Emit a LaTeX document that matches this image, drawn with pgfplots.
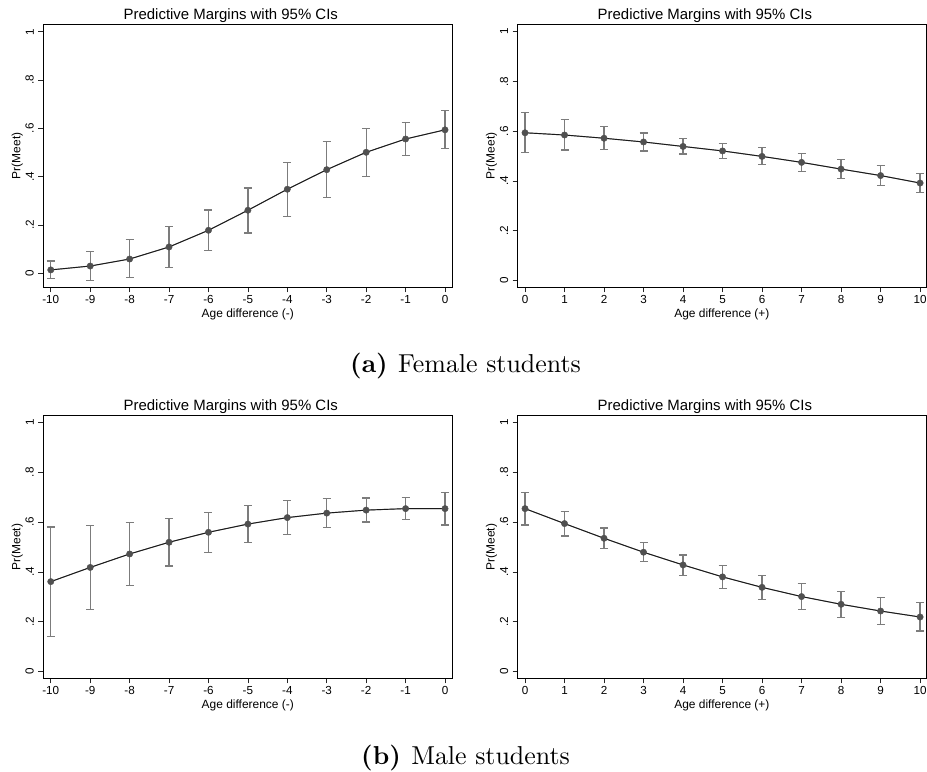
\documentclass[border=0pt]{standalone}
\usepackage{fontspec}
\usepackage{pgfplots}
\usepackage{pgfplotstable}
\pgfplotsset{compat=1.18}
\newfontfamily\arial{Liberation Sans}
\definecolor{mk}{HTML}{505050}
\definecolor{ln}{HTML}{1A1A1A}
\definecolor{eb}{HTML}{7C7C7C}

\pgfplotstableread{
x y lo hi
-10 0.014 -0.023 0.051
-9 0.030 -0.030 0.090
-8 0.059 -0.019 0.139
-7 0.109 0.023 0.194
-6 0.178 0.094 0.262
-5 0.261 0.167 0.353
-4 0.348 0.236 0.459
-3 0.429 0.313 0.546
-2 0.501 0.401 0.600
-1 0.556 0.488 0.623
0 0.594 0.516 0.674
}\femneg
\pgfplotstableread{
x y lo hi
0 0.594 0.515 0.675
1 0.585 0.525 0.647
2 0.572 0.526 0.618
3 0.557 0.521 0.593
4 0.539 0.509 0.572
5 0.521 0.489 0.552
6 0.499 0.465 0.534
7 0.475 0.439 0.510
8 0.448 0.411 0.486
9 0.422 0.383 0.461
10 0.392 0.353 0.431
}\fempos
\pgfplotstableread{
x y lo hi
-10 0.361 0.140 0.580
-9 0.418 0.250 0.587
-8 0.472 0.346 0.598
-7 0.519 0.424 0.615
-6 0.559 0.479 0.639
-5 0.592 0.519 0.666
-4 0.618 0.551 0.686
-3 0.636 0.579 0.695
-2 0.648 0.600 0.697
-1 0.654 0.610 0.699
0 0.654 0.588 0.718
}\maleneg
\pgfplotstableread{
x y lo hi
0 0.654 0.588 0.718
1 0.594 0.544 0.643
2 0.535 0.495 0.576
3 0.479 0.441 0.517
4 0.428 0.386 0.468
5 0.380 0.334 0.425
6 0.338 0.290 0.386
7 0.301 0.250 0.353
8 0.270 0.217 0.322
9 0.243 0.189 0.297
10 0.219 0.163 0.278
}\malepos

\pgfplotsset{
  stata/.style={
    scale only axis,
    anchor=south west,
    axis line style={black, line width=0.8bp},
    tick style={black!85, line width=0.7bp},
    major tick length=5bp,
    tick align=outside,
    xtick pos=left, ytick pos=left,
    font=\arial,
    /pgf/number format/assume math mode=true,
    every tick label/.append style={font=\arial\fontsize{11.7}{13}\selectfont},
    ytick={0,0.2,0.4,0.6,0.8,1},
    yticklabels={0,.2,.4,.6,.8,1},
    yticklabel style={rotate=90, anchor=south},
    yticklabel shift=1bp,
    ylabel={Pr(Meet)},
    ylabel style={font=\arial\fontsize{12}{14}\selectfont, at={(axis description cs:-0.0563,0.5)}, anchor=base},
    xlabel style={font=\arial\fontsize{12}{14}\selectfont, at={(axis description cs:0.5,-0.116)}, anchor=base},
    title={Predictive Margins with 95\% CIs},
    every axis title shift=0pt,
    title style={font=\arial\fontsize{15}{17}\selectfont, at={(axis description cs:0.4584,1.019)}, anchor=base},
  },
  negx/.style={xmin=-10.19, xmax=0.185, xtick={-10,...,0},
    xticklabels={-10,-9,-8,-7,-6,-5,-4,-3,-2,-1,0}, xlabel={Age difference (-)}},
  posx/.style={xmin=-0.185, xmax=10.15, xtick={0,...,10},
    xticklabels={0,1,2,3,4,5,6,7,8,9,10}, xlabel={Age difference (+)}},
  ebars/.style={eb, line width=1bp, mark=none, forget plot,
    error bars/.cd, y dir=both, y explicit,
    error bar style={eb, line width=1.2bp},
    error mark options={rotate=90, eb, line width=1.2bp, mark size=4bp}},
  mline/.style={ln, line width=0.9bp, mark=*, mark size=3.2bp,
    mark options={fill=mk, draw=mk, line width=0.4bp}},
}

\begin{document}
\begin{tikzpicture}[x=1bp, y=1bp]
\useasboundingbox (0,0) rectangle (927,772);

% (a) Female, negative
\begin{axis}[stata, negx, at={(43.3bp,484.7bp)}, width=409bp, height=263bp,
  ymin=-0.058, ymax=1.031]
\addplot [ebars] table [x=x, y=y, y error plus expr=\thisrow{hi}-\thisrow{y}, y error minus expr=\thisrow{y}-\thisrow{lo}] {\femneg};
\addplot [mline] table [x=x, y=y] {\femneg};
\end{axis}

% (a) Female, positive
\begin{axis}[stata, posx, at={(517.7bp,484.7bp)}, width=408.3bp, height=263bp,
  ymin=-0.027, ymax=1.03]
\addplot [ebars] table [x=x, y=y, y error plus expr=\thisrow{hi}-\thisrow{y}, y error minus expr=\thisrow{y}-\thisrow{lo}] {\fempos};
\addplot [mline] table [x=x, y=y] {\fempos};
\end{axis}

% (b) Male, negative
\begin{axis}[stata, negx, at={(43.3bp,93.7bp)}, width=409bp, height=262.6bp,
  ymin=-0.027, ymax=1.027]
\addplot [ebars] table [x=x, y=y, y error plus expr=\thisrow{hi}-\thisrow{y}, y error minus expr=\thisrow{y}-\thisrow{lo}] {\maleneg};
\addplot [mline] table [x=x, y=y] {\maleneg};
\end{axis}

% (b) Male, positive
\begin{axis}[stata, posx, at={(517.7bp,93.7bp)}, width=408.3bp, height=262.6bp,
  ymin=-0.027, ymax=1.027]
\addplot [ebars] table [x=x, y=y, y error plus expr=\thisrow{hi}-\thisrow{y}, y error minus expr=\thisrow{y}-\thisrow{lo}] {\malepos};
\addplot [mline] table [x=x, y=y] {\malepos};
\end{axis}

\node[anchor=base, inner sep=0pt, scale=2.6] at (465.5bp,399.3bp) {\normalsize\textbf{(a)}\hspace{0.4em}Female students};
\node[anchor=base, inner sep=0pt, scale=2.6] at (465.5bp,7.7bp) {\normalsize\textbf{(b)}\hspace{0.4em}Male students};
\end{tikzpicture}
\end{document}
